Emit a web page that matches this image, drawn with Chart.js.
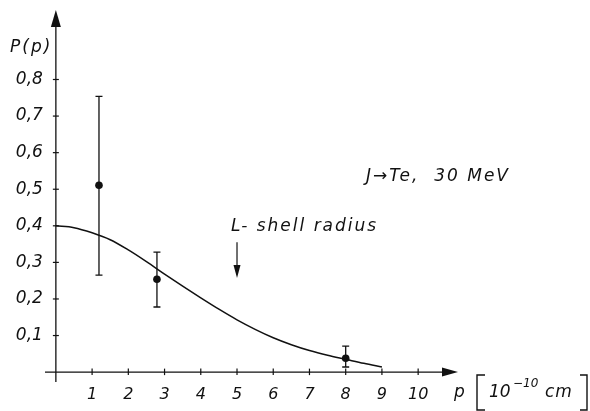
<!DOCTYPE html>
<html lang="en">
<head>
  <meta charset="UTF-8">
  <title>P(p) - J on Te, 30 MeV</title>
  <script src="https://cdn.jsdelivr.net/npm/chart.js"></script>
  <style>
    html, body { margin: 0; padding: 0; background: #fff; }
    #wrap { width: 590px; height: 411px; }
  </style>
</head>
<body>
  <div id="wrap">
    <canvas id="chart" width="590" height="411"></canvas>
  </div>

  <script>
    // calculated curve
    const curveP = [0, 0.5, 1, 1.5, 2, 2.5, 3, 3.5, 4, 4.5, 5, 5.5, 6, 6.5, 7, 7.5, 8, 8.5, 9];
    const curveVal = [0.400, 0.395, 0.381, 0.362, 0.334, 0.302, 0.268, 0.235, 0.203, 0.172, 0.143, 0.117, 0.094, 0.075, 0.059, 0.046, 0.035, 0.024, 0.014];

    // measured points with error bars
    const pointP = [1.19, 2.79, 8.0];
    const pointVal = [0.511, 0.254, 0.038];
    const errLow = [0.265, 0.178, 0.014];
    const errHigh = [0.754, 0.328, 0.071];

    // tick labels
    const xTicks = [1, 2, 3, 4, 5, 6, 7, 8, 9, 10];
    const yTicks = [0.1, 0.2, 0.3, 0.4, 0.5, 0.6, 0.7, 0.8];
    const yTickLabels = ['0,1', '0,2', '0,3', '0,4', '0,5', '0,6', '0,7', '0,8'];

    // L-shell radius marker
    const shellP = 5;
    const shellArrowTop = 0.355;
    const shellArrowTip = 0.257;

    const FONT = '"DejaVu Sans", sans-serif';

    const axesPlugin = {
      id: 'axes',
      beforeDatasetsDraw(chart) {
        const ctx = chart.ctx;
        const xs = chart.scales.x, ys = chart.scales.y;
        const area = chart.chartArea;
        const x0 = xs.getPixelForValue(0);
        const y0 = ys.getPixelForValue(0);

        ctx.save();
        ctx.strokeStyle = '#111';
        ctx.fillStyle = '#111';
        ctx.lineWidth = 1.3;

        // y axis
        ctx.beginPath();
        ctx.moveTo(x0, area.bottom);
        ctx.lineTo(x0, area.top + 14);
        ctx.stroke();
        ctx.beginPath();
        ctx.moveTo(x0, area.top);
        ctx.lineTo(x0 - 5, area.top + 17);
        ctx.lineTo(x0 + 5, area.top + 17);
        ctx.closePath();
        ctx.fill();

        // x axis
        ctx.beginPath();
        ctx.moveTo(area.left, y0);
        ctx.lineTo(area.right - 12, y0);
        ctx.stroke();
        ctx.beginPath();
        ctx.moveTo(area.right, y0);
        ctx.lineTo(area.right - 16, y0 - 4.5);
        ctx.lineTo(area.right - 16, y0 + 4.5);
        ctx.closePath();
        ctx.fill();

        // ticks
        ctx.lineWidth = 1.2;
        xTicks.forEach(v => {
          const px = xs.getPixelForValue(v);
          ctx.beginPath();
          ctx.moveTo(px, y0 - 3.5);
          ctx.lineTo(px, y0 + 3);
          ctx.stroke();
        });
        yTicks.forEach(v => {
          const py = ys.getPixelForValue(v);
          ctx.beginPath();
          ctx.moveTo(x0 - 3, py);
          ctx.lineTo(x0 + 3, py);
          ctx.stroke();
        });

        // tick labels
        ctx.font = 'oblique 16px ' + FONT;
        ctx.textAlign = 'center';
        ctx.textBaseline = 'alphabetic';
        xTicks.forEach(v => {
          ctx.fillText(String(v), xs.getPixelForValue(v), y0 + 27);
        });
        ctx.font = 'oblique 17px ' + FONT;
        ctx.textAlign = 'right';
        ctx.textBaseline = 'middle';
        yTicks.forEach((v, i) => {
          ctx.fillText(yTickLabels[i], x0 - 13, ys.getPixelForValue(v));
        });

        // axis titles
        ctx.textAlign = 'left';
        ctx.textBaseline = 'alphabetic';
        ctx.font = 'oblique 17px ' + FONT;
        ctx.letterSpacing = '2px';
        ctx.fillText('P(p)', 10, 52);
        ctx.letterSpacing = '0px';

        ctx.fillText('p', 454, 397);
        ctx.fillText('10', 489, 397);
        ctx.font = 'oblique 12px ' + FONT;
        ctx.fillText('\u221210', 513, 387);
        ctx.font = 'oblique 17px ' + FONT;
        ctx.letterSpacing = '1px';
        ctx.fillText('cm', 545, 397);
        ctx.letterSpacing = '0px';

        // unit brackets
        ctx.lineWidth = 1.4;
        ctx.beginPath();
        ctx.moveTo(485, 375);
        ctx.lineTo(477, 375);
        ctx.lineTo(477, 410);
        ctx.lineTo(485, 410);
        ctx.moveTo(580, 375);
        ctx.lineTo(587, 375);
        ctx.lineTo(587, 410);
        ctx.lineTo(580, 410);
        ctx.stroke();

        // annotations
        ctx.letterSpacing = '2px';
        ctx.fillText('J\u2192Te,  30 MeV', 366, 181);
        ctx.fillText('L- shell radius', 231, 231);
        ctx.letterSpacing = '0px';

        // L-shell arrow
        const sx = xs.getPixelForValue(shellP);
        const sTop = ys.getPixelForValue(shellArrowTop);
        const sTip = ys.getPixelForValue(shellArrowTip);
        ctx.lineWidth = 1.2;
        ctx.beginPath();
        ctx.moveTo(sx, sTop);
        ctx.lineTo(sx, sTip - 8);
        ctx.stroke();
        ctx.beginPath();
        ctx.moveTo(sx, sTip);
        ctx.lineTo(sx - 3.5, sTip - 13);
        ctx.lineTo(sx + 3.5, sTip - 13);
        ctx.closePath();
        ctx.fill();

        ctx.restore();
      },
      afterDatasetsDraw(chart) {
        const ctx = chart.ctx;
        const xs = chart.scales.x, ys = chart.scales.y;
        ctx.save();
        ctx.strokeStyle = '#111';
        ctx.lineWidth = 1.3;
        pointP.forEach((p, i) => {
          const px = xs.getPixelForValue(p);
          const lo = ys.getPixelForValue(errLow[i]);
          const hi = ys.getPixelForValue(errHigh[i]);
          ctx.beginPath();
          ctx.moveTo(px, lo);
          ctx.lineTo(px, hi);
          ctx.moveTo(px - 3.5, lo);
          ctx.lineTo(px + 3.5, lo);
          ctx.moveTo(px - 3.5, hi);
          ctx.lineTo(px + 3.5, hi);
          ctx.stroke();
        });
        ctx.restore();
      }
    };

    new Chart(document.getElementById('chart'), {
      type: 'scatter',
      data: {
        datasets: [
          {
            label: 'calculated',
            data: curveP.map((p, i) => ({ x: p, y: curveVal[i] })),
            showLine: true,
            borderColor: '#111',
            borderWidth: 1.5,
            pointRadius: 0,
            cubicInterpolationMode: 'monotone',
            fill: false
          },
          {
            label: 'measured',
            data: pointP.map((p, i) => ({ x: p, y: pointVal[i] })),
            showLine: false,
            pointRadius: 3.8,
            pointBackgroundColor: '#111',
            pointBorderColor: '#111',
            pointBorderWidth: 0
          }
        ]
      },
      options: {
        responsive: false,
        animation: false,
        layout: { padding: { left: 45, right: 132, top: 10, bottom: 29 } },
        plugins: {
          legend: { display: false },
          tooltip: { enabled: false }
        },
        scales: {
          x: { type: 'linear', min: -0.3, max: 11.1, display: false },
          y: { type: 'linear', min: -0.027, max: 0.99, display: false }
        }
      },
      plugins: [axesPlugin]
    });
  </script>
</body>
</html>
